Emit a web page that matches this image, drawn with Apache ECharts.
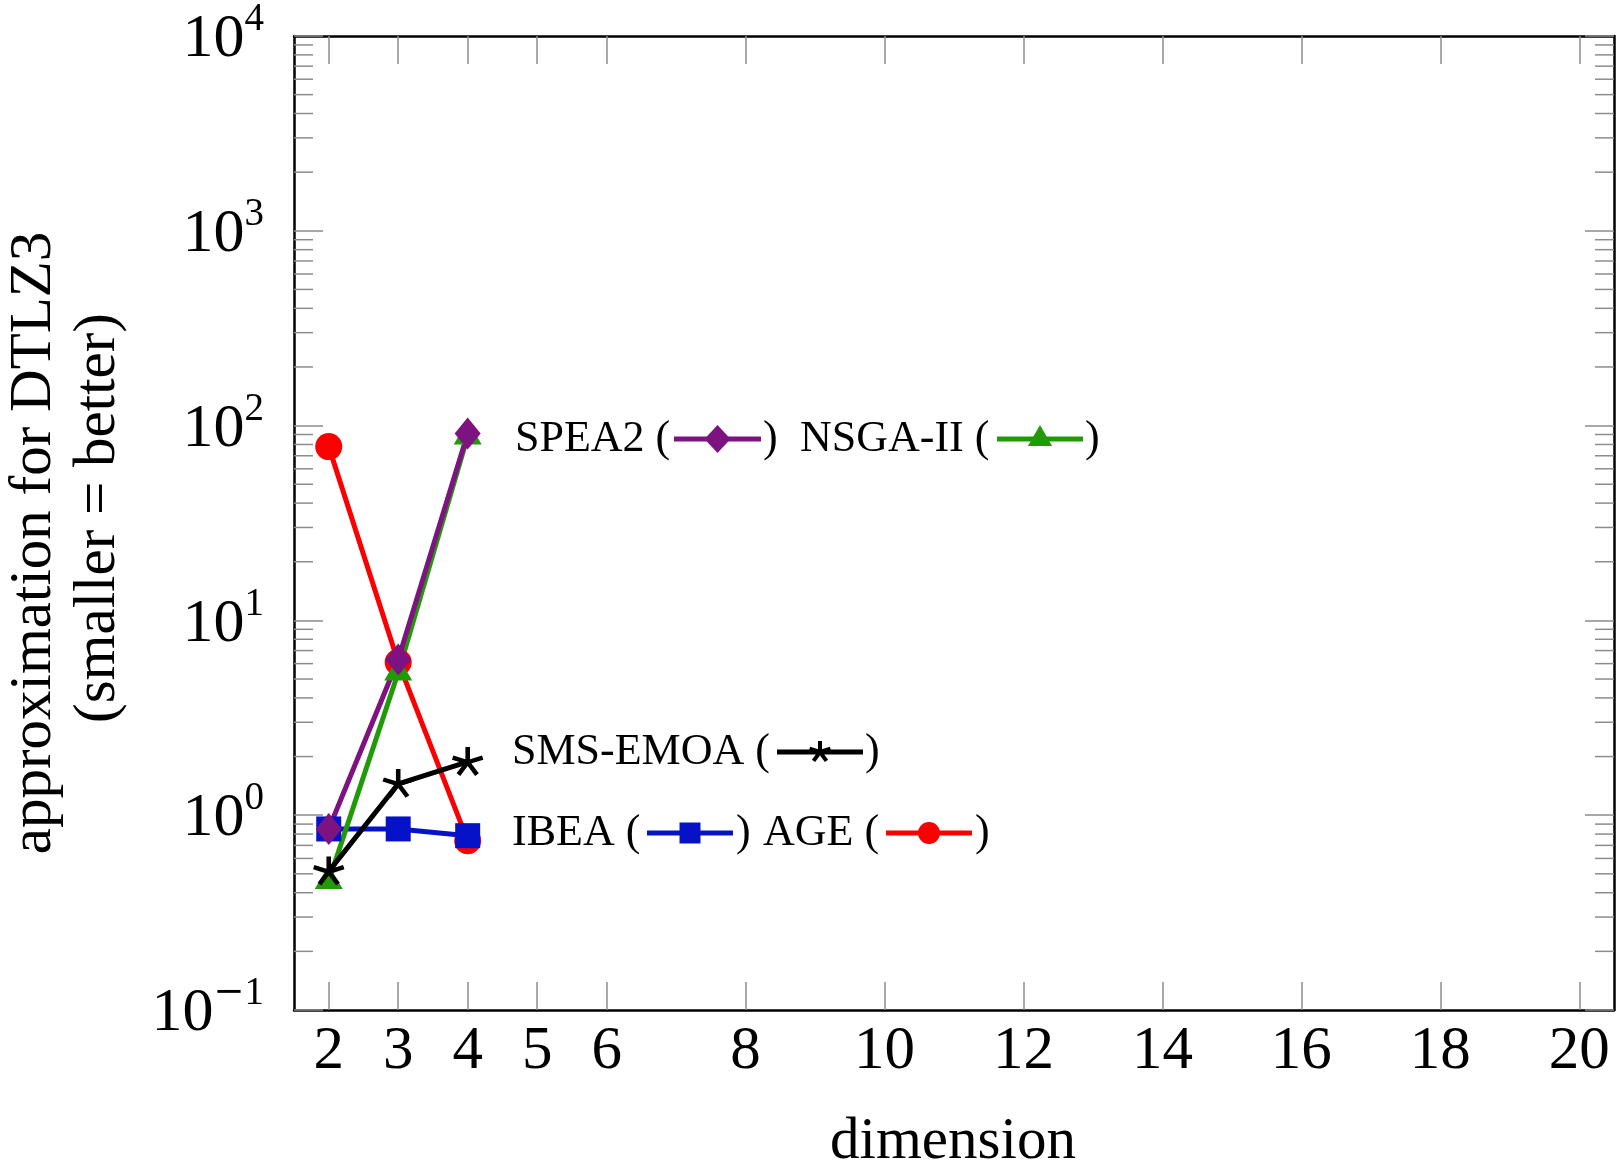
<!DOCTYPE html>
<html>
<head>
<meta charset="utf-8">
<script src="https://cdn.jsdelivr.net/npm/echarts@6/dist/echarts.min.js"></script>
<style>
  html, body { margin: 0; padding: 0; background: #ffffff; }
  #chart { width: 1618px; height: 1166px; }
</style>
</head>
<body>
<div id="chart"></div>
<script>
// ---- data -------------------------------------------------------------
const dimensions = [2, 3, 4];
const xTickValues = [2, 3, 4, 5, 6, 8, 10, 12, 14, 16, 18, 20];
const yDecades = [0.1, 1, 10, 100, 1000];
const minorMantissas = [2, 3, 4, 5, 6, 7, 8, 9];

const ageValues     = [78, 6.1, 0.74];
const ibeaValues    = [0.85, 0.85, 0.785];
const nsga2Values   = [0.46, 5.4, 88];
const smsemoaValues = [0.515, 1.45, 1.88];
const spea2Values   = [0.85, 6.3, 91];

// ---- styling ----------------------------------------------------------
const SERIF = "'Liberation Serif', 'Times New Roman', serif";
const TICK_GRAY = '#8c8c8c';
const COLORS = {
  age: '#fa0000',
  ibea: '#0612c8',
  nsga2: '#229a08',
  smsemoa: '#000000',
  spea2: '#7d1380'
};
const X_MIN = 1.5, X_MAX = 20.5;
const STAR_PATH = 'path://M0,0L0,-10M0,0L9.511,-3.09M0,0L5.878,8.09M0,0L-5.878,8.09M0,0L-9.511,-3.09';

const pairs = (vals) => dimensions.map((d, i) => [d, vals[i]]);

// minor ticks of the log axis: mantissa x decade
const minorTickValues = [];
yDecades.forEach(dec => minorMantissas.forEach(m => minorTickValues.push(m * dec)));

function supExp(v) {
  const e = Math.round(Math.log10(v));
  if (e < 0) return '{b|10}{m|\u2212}{s|' + (-e) + '}';
  return '{b|10}{s|' + e + '}';
}

// ---- inline legend built from zrender primitives -----------------------
function legendLine(x0, x1, y, color) {
  return { type: 'line', shape: { x1: x0, y1: y, x2: x1, y2: y },
           style: { stroke: color, lineWidth: 5 }, z: 100 };
}
function legendText(x, y, text) {
  return { type: 'text', x: x, y: y, z: 100,
           style: { text: text, font: '44px ' + SERIF, fill: '#000',
                    align: 'left', verticalAlign: 'middle' } };
}
function legendMarker(kind, cx, cy, color) {
  if (kind === 'diamond') {
    return { type: 'polygon', z: 101, shape: { points: [[cx, cy - 14], [cx + 13, cy], [cx, cy + 14], [cx - 13, cy]] },
             style: { fill: color } };
  }
  if (kind === 'triangle') {
    const r = 14;
    return { type: 'polygon', z: 101, shape: { points: [[cx, cy - r], [cx + r * 0.866, cy + r / 2], [cx - r * 0.866, cy + r / 2]] },
             style: { fill: color } };
  }
  if (kind === 'rect') {
    return { type: 'rect', z: 101, shape: { x: cx - 10.5, y: cy - 10.5, width: 21, height: 21 },
             style: { fill: color } };
  }
  if (kind === 'circle') {
    return { type: 'circle', z: 101, shape: { cx: cx, cy: cy, r: 11 }, style: { fill: color } };
  }
  // five-spoke star
  const r = 11, spokes = [];
  for (let k = 0; k < 5; k++) {
    const a = -Math.PI / 2 + k * 2 * Math.PI / 5;
    spokes.push({ type: 'line', z: 101,
                  shape: { x1: cx, y1: cy, x2: cx + r * Math.cos(a), y2: cy + r * Math.sin(a) },
                  style: { stroke: color, lineWidth: 4 } });
  }
  return { type: 'group', children: spokes };
}
function legendEntry(label, textX, lineX0, lineX1, closeX, y, kind, color) {
  return [
    legendText(textX, y, label + ' ('),
    legendLine(lineX0, lineX1, y, color),
    legendMarker(kind, (lineX0 + lineX1) / 2, y, color),
    legendText(closeX, y, ')')
  ];
}

const legendGraphics = [].concat(
  legendEntry('SPEA2',    515, 674, 761, 763, 439, 'diamond',  COLORS.spea2),
  legendEntry('NSGA-II',  800, 997, 1083, 1085, 439, 'triangle', COLORS.nsga2),
  legendEntry('SMS-EMOA', 512, 777, 863, 865, 752, 'star',     COLORS.smsemoa),
  legendEntry('IBEA',     512, 647, 733, 736, 833, 'rect',     COLORS.ibea),
  legendEntry('AGE',      763, 886, 972, 975, 833, 'circle',   COLORS.age)
);

// axis titles
const titleGraphics = [
  { type: 'text', x: 34, y: 543, rotation: Math.PI / 2,
    style: { text: 'approximation for DTLZ3', font: '59px ' + SERIF, fill: '#000',
             align: 'center', verticalAlign: 'middle' } },
  { type: 'text', x: 98, y: 518, rotation: Math.PI / 2,
    style: { text: '(smaller = better)', font: '59px ' + SERIF, fill: '#000',
             align: 'center', verticalAlign: 'middle' } },
  { type: 'text', x: 953, y: 1142,
    style: { text: 'dimension', font: '59px ' + SERIF, fill: '#000',
             align: 'center', verticalAlign: 'middle' } }
];

// ---- axes -------------------------------------------------------------
const frameLine = { show: true, onZero: false, lineStyle: { color: '#000', width: 2.5 } };
const xTick = { show: true, inside: true, length: 28, customValues: xTickValues,
                lineStyle: { color: TICK_GRAY, width: 1.5 } };
const yTick = { show: true, inside: true, length: 29, lineStyle: { color: TICK_GRAY, width: 1.5 } };

const baseX = { type: 'value', min: X_MIN, max: X_MAX, splitLine: { show: false },
                axisLine: frameLine, axisTick: xTick };
const baseY = { type: 'log', logBase: 10, min: 0.1, max: 10000, interval: 1,
                splitLine: { show: false }, minorTick: { show: false },
                axisLine: frameLine, axisTick: yTick };

function lineSeries(name, values, color, symbol, size, extra) {
  return Object.assign({
    name: name, type: 'line', data: pairs(values),
    symbol: symbol, symbolSize: size, showSymbol: true,
    lineStyle: { color: color, width: 5 },
    itemStyle: { color: color, borderColor: color, borderWidth: 0 },
    emphasis: { disabled: true }, z: 3
  }, extra || {});
}

const option = {
  animation: false,
  backgroundColor: '#ffffff',
  grid: { left: 294, right: 4, top: 36, bottom: 156, containLabel: false },
  xAxis: [
    Object.assign({}, baseX, { position: 'bottom',
      axisLabel: { show: true, customValues: xTickValues, margin: 11, color: '#000',
                   fontFamily: SERIF, fontSize: 61 } }),
    Object.assign({}, baseX, { position: 'top', axisLabel: { show: false } })
  ],
  yAxis: [
    Object.assign({}, baseY, { position: 'left',
      axisLabel: { show: true, margin: 30, color: '#000', formatter: supExp,
                   padding: [8, 0, 0, 0],
                   rich: {
                     b: { fontFamily: SERIF, fontSize: 62, lineHeight: 79, color: '#000' },
                     m: { fontFamily: "'DejaVu Serif', serif", fontSize: 37, lineHeight: 37, color: '#000', verticalAlign: 'top' },
                     s: { fontFamily: SERIF, fontSize: 39, lineHeight: 37, color: '#000', verticalAlign: 'top' }
                   } } }),
    Object.assign({}, baseY, { position: 'right', axisLabel: { show: false } })
  ],
  series: [
    {
      name: 'minor ticks', type: 'custom', silent: true, z: 1, clip: false,
      data: minorTickValues.map(v => [X_MIN, v]),
      renderItem: function (params, api) {
        const v = api.value(1);
        const pl = api.coord([X_MIN, v]);
        const pr = api.coord([X_MAX, v]);
        const st = { stroke: TICK_GRAY, lineWidth: 1.5 };
        return { type: 'group', children: [
          { type: 'line', shape: { x1: pl[0], y1: pl[1], x2: pl[0] + 19, y2: pl[1] }, style: st },
          { type: 'line', shape: { x1: pr[0], y1: pr[1], x2: pr[0] - 19, y2: pr[1] }, style: st }
        ] };
      }
    },
    lineSeries('AGE', ageValues, COLORS.age, 'circle', 27),
    lineSeries('IBEA', ibeaValues, COLORS.ibea, 'rect', 25),
    lineSeries('NSGA-II', nsga2Values, COLORS.nsga2, 'triangle', [28, 24], { symbolOffset: [0, -4] }),
    lineSeries('SMS-EMOA', smsemoaValues, COLORS.smsemoa, STAR_PATH, [30, 29],
               { symbolKeepAspect: true, symbolOffset: [0, -1],
                 lineStyle: { color: COLORS.smsemoa, width: 5 },
                 itemStyle: { color: 'none', borderColor: COLORS.smsemoa, borderWidth: 4.5 } }),
    lineSeries('SPEA2', spea2Values, COLORS.spea2, 'diamond', [26, 32])
  ],
  graphic: titleGraphics.concat(legendGraphics)
};

const chart = echarts.init(document.getElementById('chart'), null, { renderer: 'canvas' });
chart.setOption(option);
</script>
</body>
</html>
